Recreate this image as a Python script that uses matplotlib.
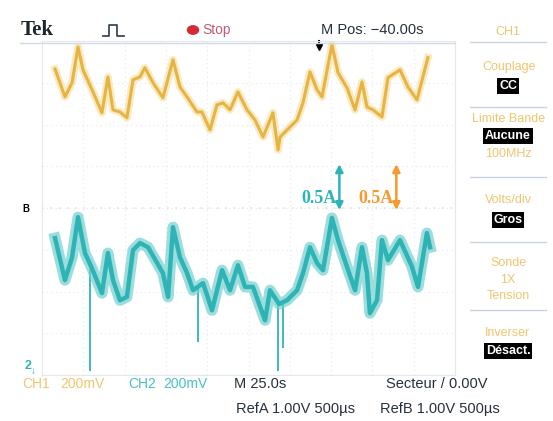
import matplotlib
matplotlib.use("Agg")
import matplotlib.pyplot as plt
from matplotlib.lines import Line2D
from matplotlib.patches import Circle

# time in seconds (M 25.0 s/div, 10 div), level in screen divisions
ch1_t = [7.9, 13.9, 18.2, 21.8, 24.8, 30.3, 36.3, 39.9, 43.0, 47.2, 51.4, 55.1,
         59.3, 62.3, 67.2, 73.2, 79.3, 83.5, 87.8, 93.8, 96.8, 101.7, 105.9,
         109.6, 113.8, 118.6, 124.1, 128.9, 133.8, 139.8, 142.9, 144.1, 150.1,
         154.4, 158.0, 162.2, 166.5, 169.5, 175.5, 179.2, 184.6, 189.5, 193.7,
         196.7, 200.4, 205.8, 209.4, 216.7, 221.5, 227.0, 233.6]
ch1_div = [3.33, 2.66, 3.00, 3.86, 3.31, 2.83, 2.28, 3.14, 2.35, 2.30, 2.16, 3.07,
           3.14, 3.36, 3.00, 2.64, 3.55, 2.90, 2.66, 2.30, 2.30, 1.87, 2.47,
           2.52, 2.35, 2.78, 2.35, 2.11, 1.70, 2.28, 1.39, 1.70, 1.94,
           2.11, 2.52, 3.26, 2.83, 2.66, 3.91, 3.24, 2.88, 2.35, 3.02,
           2.42, 2.35, 2.18, 3.12, 3.31, 2.90, 2.59, 3.60]

ch2_t = [7.9, 13.9, 18.2, 21.8, 26.0, 30.3, 36.3, 39.9, 43.0, 47.2, 51.4, 55.1,
         59.3, 64.2, 73.2, 76.3, 79.3, 83.5, 87.8, 91.4, 97.5, 102.9, 109.0,
         113.8, 118.6, 122.9, 127.7, 135.0, 138.0, 143.5, 148.3, 154.4, 158.0,
         162.2, 166.5, 170.1, 175.5, 179.2, 184.6, 189.5, 193.7, 196.7, 198.5,
         202.8, 205.8, 209.4, 216.7, 224.0, 227.6, 233.0, 234.9]
ch2_div = [-0.72, -1.73, -1.18, -0.22, -1.08, -1.45, -2.04, -1.08, -1.73, -2.21, -2.13, -1.01,
           -0.84, -0.94, -1.56, -2.13, -0.46, -1.18, -1.56, -1.97, -1.80, -2.45, -1.49,
           -1.97, -1.37, -1.89, -1.89, -2.69, -1.97, -2.30, -2.21, -1.97, -1.56,
           -0.94, -1.32, -1.49, -0.24, -0.77, -1.41, -1.97, -0.94, -1.56, -2.52,
           -2.21, -0.77, -1.25, -0.77, -1.41, -1.89, -0.60, -0.94]

# narrow glitches on CH2
spike_t = [29.1, 94.4, 142.9, 145.9]
spike_top = [-1.45, -1.90, -2.20, -2.30]
spike_bottom = [-3.90, -3.20, -3.90, -3.35]

YEL = "#e6b443"
CYAN = "#2fb4b6"
ORANGE = "#f59a2e"
DARK = "#27313d"
MENU = "#f2c56e"

fig = plt.figure(figsize=(5.53, 4.21), dpi=100)
fig.patch.set_facecolor("white")
W, H = 553.0, 421.0

ax = fig.add_axes([42 / W, 1 - 375 / H, 413 / W, 334 / H])
ax.set_xlim(0, 250)
ax.set_ylim(-4, 4)
for s in ax.spines.values():
    s.set_color("#e3e8f0")
    s.set_linewidth(0.8)
ax.set_xticks([])
ax.set_yticks([])

# graticule
for k in range(1, 10):
    ax.axvline(k * 25, color="#e3e9f1", lw=0.8, ls=(0, (1, 3)), zorder=0)
for k in range(-3, 4):
    ax.axhline(k, color="#e3e9f1", lw=0.8, ls=(0, (1, 3)), zorder=0)
ax.axhline(0, color="#e2e6c8", lw=1.2, ls=(0, (1, 4)), zorder=0)

# traces
ax.plot(ch1_t, ch1_div, color="#f5dc9a", lw=5.5, alpha=0.6, solid_joinstyle="round")
ax.plot(ch1_t, ch1_div, color=YEL, lw=2.2, solid_joinstyle="round")
ax.vlines(spike_t, spike_bottom, spike_top, color=CYAN, lw=1.3)
ax.plot(ch2_t, ch2_div, color="#74cfd0", lw=8, alpha=0.7, solid_joinstyle="round")
ax.plot(ch2_t, ch2_div, color=CYAN, lw=3.2, solid_joinstyle="round")

# scale arrows
ax.annotate("", xy=(180, -0.05), xytext=(180, 1.05),
            arrowprops=dict(arrowstyle="<|-|>", color=CYAN, lw=1.8,
                            mutation_scale=11, shrinkA=0, shrinkB=0))
ax.annotate("", xy=(214.5, -0.05), xytext=(214.5, 1.05),
            arrowprops=dict(arrowstyle="<|-|>", color=ORANGE, lw=1.8,
                            mutation_scale=11, shrinkA=0, shrinkB=0))
ax.text(178.5, 0.22, "0.5A", color=CYAN, fontsize=13, fontweight="bold",
        family="Liberation Serif", ha="right", va="center")
ax.text(213, 0.22, "0.5A", color=ORANGE, fontsize=13, fontweight="bold",
        family="Liberation Serif", ha="right", va="center")

# trigger position marker
ax.plot([167.5], [3.85], marker="v", color="black", ms=5, clip_on=False)
ax.plot([167.5, 167.5], [3.85, 4.0], color="black", lw=1.5, clip_on=False)


def ft(x, y, s, **kw):
    kw.setdefault("family", "Liberation Sans")
    kw.setdefault("va", "center")
    fig.text(x / W, 1 - y / H, s, **kw)


# top bar
fig.add_artist(Line2D([20 / W, 455 / W], [1 - 43 / H] * 2, color="#d3d9e6", lw=1))
ft(21, 30, "Tek", fontsize=15, fontweight="bold", family="Liberation Serif", color="#1d2530")
fig.add_artist(Line2D([p / W for p in (103, 109, 109, 117, 117, 124)],
                      [1 - p / H for p in (36, 36, 25, 25, 36, 36)],
                      color="#3d4a5a", lw=1.3))
fig.add_artist(Circle((193 / W, 1 - 30 / H), 5.5 / W, color="#d32a35",
                      transform=fig.transFigure))
ft(202, 30, "Stop", fontsize=10, color="#c65a73")
ft(321, 30, "M Pos: \u221240.00s", fontsize=10.5, color=DARK)
ft(508, 32, "CH1", fontsize=9, color=MENU, ha="center")

# right menu
for yy in (42, 107, 177, 242, 310):
    fig.add_artist(Line2D([470 / W, 546 / W], [1 - yy / H] * 2, color="#c9d2e0", lw=1))
box = dict(boxstyle="square,pad=0.15", fc="black", ec="none")
ft(509, 67, "Couplage", fontsize=9, color=MENU, ha="center")
ft(508, 86, "CC", fontsize=9, color="white", ha="center", fontweight="bold", bbox=box)
ft(509, 119, "Limite Bande", fontsize=9, color=MENU, ha="center")
ft(508, 136, "Aucune", fontsize=9, color="white", ha="center", fontweight="bold", bbox=box)
ft(508, 154, "100MHz", fontsize=9, color=MENU, ha="center")
ft(508, 200, "Volts/div", fontsize=9, color=MENU, ha="center")
ft(508, 220, "Gros", fontsize=9, color="white", ha="center", fontweight="bold", bbox=box)
ft(508, 263, "Sonde", fontsize=9, color=MENU, ha="center")
ft(508, 280, "1X", fontsize=9, color=MENU, ha="center")
ft(508, 296, "Tension", fontsize=9, color=MENU, ha="center")
ft(508, 333, "Inverser", fontsize=9, color=MENU, ha="center")
ft(508, 351, "Désact.", fontsize=9, color="white", ha="center", fontweight="bold", bbox=box)

# channel markers
ft(22, 209, "B", fontsize=7, fontweight="bold", color="black")
ft(25, 366, "2", fontsize=9, fontweight="bold", color=CYAN)
ft(31, 371, "\u2193", fontsize=7, color=CYAN)

# bottom bar
ft(22, 384, "CH1", fontsize=10, color=MENU)
ft(60, 384, "200mV", fontsize=10, color=MENU)
ft(128, 384, "CH2", fontsize=10, color="#4bbfc4")
ft(163, 384, "200mV", fontsize=10, color="#4bbfc4")
ft(234, 384, "M 25.0s", fontsize=10.5, color=DARK)
ft(386, 384, "Secteur / 0.00V", fontsize=10.5, color=DARK)
ft(236, 409, "RefA 1.00V 500\u00b5s", fontsize=10.5, color=DARK)
ft(380, 409, "RefB 1.00V 500\u00b5s", fontsize=10.5, color=DARK)

fig.savefig("out.png", dpi=100, facecolor="white")
